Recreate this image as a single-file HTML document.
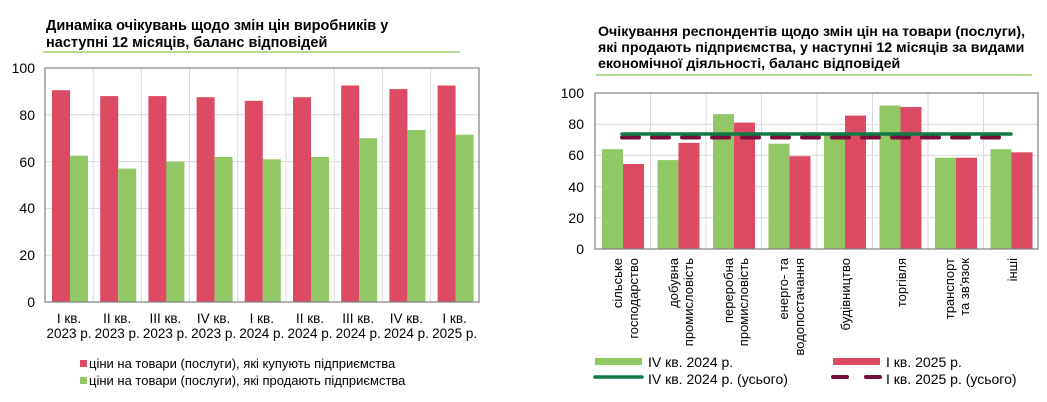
<!DOCTYPE html>
<html><head><meta charset="utf-8"><style>
html,body{margin:0;padding:0;background:#fff;}
svg{display:block;font-family:"Liberation Sans",sans-serif;}
</style></head><body>
<svg width="1047" height="402" viewBox="0 0 1047 402" xmlns="http://www.w3.org/2000/svg">
<!-- LEFT CHART -->
<text x="46" y="30" font-size="14.5" font-weight="bold" fill="#000">Динаміка очікувань щодо змін цін виробників у</text>
<text x="46" y="47" font-size="14.5" font-weight="bold" fill="#000">наступні 12 місяців, баланс відповідей</text>
<line x1="43" y1="52" x2="460" y2="52" stroke="#9bd06b" stroke-width="1.5"/>
<g stroke="#d9d9d9" stroke-width="1">
<line x1="45" y1="114.8" x2="479" y2="114.8"/><line x1="45" y1="161.6" x2="479" y2="161.6"/>
<line x1="45" y1="208.4" x2="479" y2="208.4"/><line x1="45" y1="255.2" x2="479" y2="255.2"/>
<line x1="93.2" y1="68" x2="93.2" y2="302"/><line x1="141.4" y1="68" x2="141.4" y2="302"/>
<line x1="189.6" y1="68" x2="189.6" y2="302"/><line x1="237.8" y1="68" x2="237.8" y2="302"/>
<line x1="286" y1="68" x2="286" y2="302"/><line x1="334.2" y1="68" x2="334.2" y2="302"/>
<line x1="382.4" y1="68" x2="382.4" y2="302"/><line x1="430.6" y1="68" x2="430.6" y2="302"/>
</g>
<g fill="#dc4a64">
<rect x="52" y="90.2" width="18" height="211.8"/>
<rect x="100.2" y="96.1" width="18" height="205.9"/>
<rect x="148.4" y="96.1" width="18" height="205.9"/>
<rect x="196.6" y="97.2" width="18" height="204.8"/>
<rect x="244.8" y="100.8" width="18" height="201.2"/>
<rect x="293" y="97.2" width="18" height="204.8"/>
<rect x="341.2" y="85.5" width="18" height="216.5"/>
<rect x="389.4" y="89.1" width="18" height="212.9"/>
<rect x="437.6" y="85.5" width="18" height="216.5"/>
</g>
<g fill="#92c765">
<rect x="70" y="155.7" width="18" height="146.3"/>
<rect x="118.2" y="168.6" width="18" height="133.4"/>
<rect x="166.4" y="161.6" width="18" height="140.4"/>
<rect x="214.6" y="156.9" width="18" height="145.1"/>
<rect x="262.8" y="159.3" width="18" height="142.7"/>
<rect x="311" y="156.9" width="18" height="145.1"/>
<rect x="359.2" y="138.2" width="18" height="163.8"/>
<rect x="407.4" y="130" width="18" height="172"/>
<rect x="455.6" y="134.7" width="18" height="167.3"/>
</g>
<rect x="45" y="68" width="434" height="234" fill="none" stroke="#808080" stroke-width="1.2"/>
<g font-size="14" fill="#000" text-anchor="end">
<text x="35" y="73">100</text><text x="35" y="120">80</text><text x="35" y="167">60</text>
<text x="35" y="213">40</text><text x="35" y="260">20</text><text x="35" y="307">0</text>
</g>
<g font-size="13.5" fill="#000" text-anchor="middle">
<text x="69" y="323">І кв.</text><text x="69" y="338">2023 р.</text>
<text x="117.2" y="323">ІІ кв.</text><text x="117.2" y="338">2023 р.</text>
<text x="165.4" y="323">ІІІ кв.</text><text x="165.4" y="338">2023 р.</text>
<text x="213.6" y="323">ІV кв.</text><text x="213.6" y="338">2023 р.</text>
<text x="261.8" y="323">І кв.</text><text x="261.8" y="338">2024 р.</text>
<text x="310" y="323">ІІ кв.</text><text x="310" y="338">2024 р.</text>
<text x="358.2" y="323">ІІІ кв.</text><text x="358.2" y="338">2024 р.</text>
<text x="406.4" y="323">ІV кв.</text><text x="406.4" y="338">2024 р.</text>
<text x="454.6" y="323">І кв.</text><text x="454.6" y="338">2025 р.</text>
</g>
<rect x="80" y="360" width="7" height="7" fill="#dc4a64"/>
<rect x="80" y="377" width="7" height="7" fill="#92c765"/>
<text x="89" y="368" font-size="13" fill="#000">ціни на товари (послуги), які купують підприємства</text>
<text x="89" y="385" font-size="13" fill="#000">ціни на товари (послуги), які продають підприємства</text>

<!-- RIGHT CHART -->
<text x="598" y="36" font-size="14.2" font-weight="bold" fill="#000">Очікування респондентів щодо змін цін на товари (послуги),</text>
<text x="598" y="52" font-size="14.2" font-weight="bold" fill="#000">які продають підприємства, у наступні 12 місяців за видами</text>
<text x="598" y="68" font-size="14.2" font-weight="bold" fill="#000">економічної діяльності, баланс відповідей</text>
<line x1="596" y1="75" x2="1032" y2="75" stroke="#9bd06b" stroke-width="1.5"/>
<g stroke="#d9d9d9" stroke-width="1">
<line x1="595" y1="124.2" x2="1038" y2="124.2"/><line x1="595" y1="155.4" x2="1038" y2="155.4"/>
<line x1="595" y1="186.6" x2="1038" y2="186.6"/><line x1="595" y1="217.8" x2="1038" y2="217.8"/>
<line x1="650.5" y1="93" x2="650.5" y2="249"/><line x1="706" y1="93" x2="706" y2="249"/>
<line x1="761.5" y1="93" x2="761.5" y2="249"/><line x1="817" y1="93" x2="817" y2="249"/>
<line x1="872.5" y1="93" x2="872.5" y2="249"/><line x1="928" y1="93" x2="928" y2="249"/>
<line x1="983.5" y1="93" x2="983.5" y2="249"/>
</g>
<g fill="#92c765">
<rect x="602" y="149.2" width="21" height="99.8"/>
<rect x="657.5" y="160.1" width="21" height="88.9"/>
<rect x="713" y="114.1" width="21" height="134.9"/>
<rect x="768.5" y="143.7" width="21" height="105.3"/>
<rect x="824" y="135.1" width="21" height="113.9"/>
<rect x="879.5" y="105.5" width="21" height="143.5"/>
<rect x="935" y="157.7" width="21" height="91.3"/>
<rect x="990.5" y="149.2" width="21" height="99.8"/>
</g>
<g fill="#dc4a64">
<rect x="623" y="164" width="21" height="85"/>
<rect x="678.5" y="142.9" width="21" height="106.1"/>
<rect x="734" y="122.6" width="21" height="126.4"/>
<rect x="789.5" y="156.2" width="21" height="92.8"/>
<rect x="845" y="115.6" width="21" height="133.4"/>
<rect x="900.5" y="107" width="21" height="142"/>
<rect x="956" y="157.7" width="21" height="91.3"/>
<rect x="1011.5" y="152.3" width="21" height="96.7"/>
</g>
<line x1="622" y1="137.5" x2="1003" y2="137.5" stroke="#7a0d3a" stroke-width="4" stroke-dasharray="17 13" stroke-linecap="round"/>
<line x1="622" y1="134" x2="1011" y2="134" stroke="#0f7a42" stroke-width="3.5" stroke-linecap="round"/>
<rect x="595" y="93" width="443" height="156" fill="none" stroke="#808080" stroke-width="1.2"/>
<g font-size="14" fill="#000" text-anchor="end">
<text x="584" y="98">100</text><text x="584" y="129">80</text><text x="584" y="160">60</text>
<text x="584" y="192">40</text><text x="584" y="223">20</text><text x="584" y="254">0</text>
</g>
<g font-size="13" fill="#000" text-anchor="end">
<text transform="translate(622,258) rotate(-90)">сільське</text>
<text transform="translate(638,258) rotate(-90)">господарство</text>
<text transform="translate(678,258) rotate(-90)">добувна</text>
<text transform="translate(693,258) rotate(-90)">промисловість</text>
<text transform="translate(733,258) rotate(-90)">переробна</text>
<text transform="translate(748,258) rotate(-90)">промисловість</text>
<text transform="translate(788,258) rotate(-90)">енерго- та</text>
<text transform="translate(804,258) rotate(-90)">водопостачання</text>
<text transform="translate(850,258) rotate(-90)">будівництво</text>
<text transform="translate(906,258) rotate(-90)">торгівля</text>
<text transform="translate(954,258) rotate(-90)">транспорт</text>
<text transform="translate(969,258) rotate(-90)">та зв'язок</text>
<text transform="translate(1017,258) rotate(-90)">інші</text>
</g>
<rect x="595" y="358" width="47" height="7" fill="#92c765"/>
<rect x="833" y="358" width="47" height="7" fill="#dc4a64"/>
<line x1="595" y1="377" x2="642" y2="377" stroke="#0f7a42" stroke-width="3.5" stroke-linecap="round"/>
<line x1="833" y1="377" x2="880" y2="377" stroke="#7a0d3a" stroke-width="4" stroke-dasharray="14 19" stroke-linecap="round"/>
<g font-size="14" fill="#000">
<text x="648" y="367">IV кв. 2024 р.</text>
<text x="648" y="384">IV кв. 2024 р. (усього)</text>
<text x="886" y="367">І кв. 2025 р.</text>
<text x="886" y="384">І кв. 2025 р. (усього)</text>
</g>
</svg>
</body></html>
